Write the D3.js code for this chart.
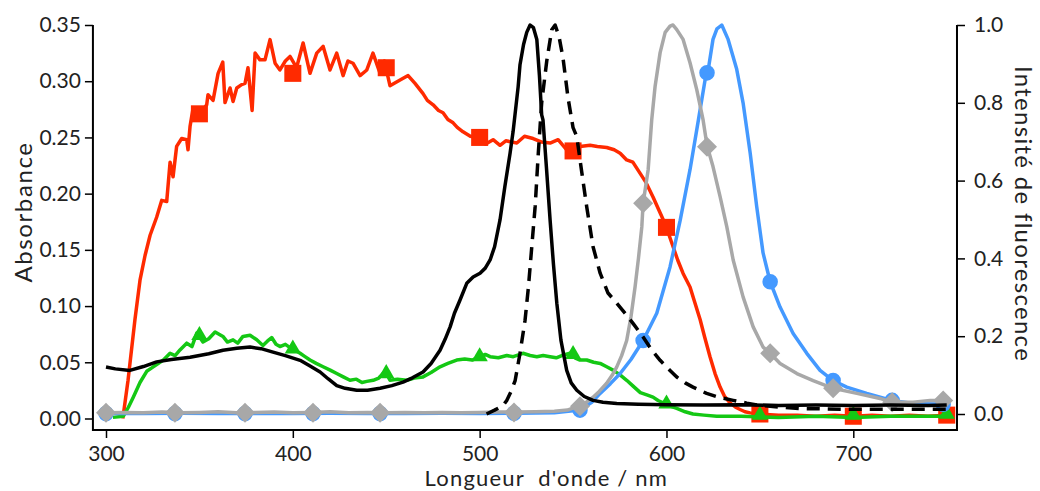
<!DOCTYPE html>
<html><head><meta charset="utf-8">
<script src="https://cdn.jsdelivr.net/npm/d3@7"></script>
<style>
html,body{margin:0;padding:0;background:#fff;}
svg{display:block;font-family:Lato,"Open Sans",sans-serif;}
</style></head>
<body>
<svg id="c" width="1040" height="491"></svg>
<script>
// ---------- DATA ----------
const xTicks = [300, 400, 500, 600, 700];
const leftTicks = [0, 0.05, 0.10, 0.15, 0.20, 0.25, 0.30, 0.35];
const rightTicks = [0, 0.2, 0.4, 0.6, 0.8, 1.0];
const xLabel = "Longueur\u00a0\u00a0d'onde / nm";
const leftLabel = "Absorbance";
const rightLabel = "Intensité de fluorescence";

// absorbance (left axis) – red, squares
const redAbs = [[309,0.000],[311.8,0.034],[315.5,0.088],[318.2,0.123],[320.9,0.145],[323.6,0.163],[327.1,0.179],[329.8,0.194],[332.5,0.193],[334.3,0.228],[335.9,0.215],[337.8,0.242],[340.5,0.249],[343.2,0.248],[343.9,0.239],[345.0,0.260],[346.6,0.276],[350,0.270],[353.9,0.279],[354.6,0.288],[357.3,0.283],[360.0,0.307],[362.5,0.317],[363.7,0.281],[366.4,0.294],[368.0,0.282],[370.0,0.294],[372.6,0.297],[374.4,0.298],[376.0,0.312],[378.2,0.274],[379.8,0.325],[382.4,0.319],[385.1,0.319],[387.8,0.337],[390.5,0.316],[393.1,0.310],[396,0.318],[398.5,0.322],[402,0.312],[405.5,0.334],[409.2,0.307],[412.8,0.325],[416.2,0.331],[419.9,0.310],[423.5,0.325],[426.9,0.305],[429.5,0.318],[432.2,0.316],[436.0,0.305],[439.6,0.310],[442.9,0.325],[446.7,0.307],[449,0.318],[452.0,0.296],[457.4,0.301],[461.7,0.305],[465.4,0.298],[469.7,0.289],[472,0.283],[475.1,0.279],[478,0.274],[480.4,0.272],[483,0.266],[485.8,0.263],[488,0.259],[491.1,0.255],[495,0.251],[498.4,0.250],[500,0.248],[503,0.244],[507.2,0.248],[510.9,0.243],[514,0.247],[519.9,0.245],[524,0.251],[528.6,0.249],[533,0.246],[537.7,0.245],[542,0.248],[546.6,0.239],[550,0.240],[553.7,0.242],[559.1,0.243],[563,0.242],[568.0,0.241],[572,0.239],[575.2,0.236],[578.7,0.230],[582,0.228],[585.9,0.218],[589,0.210],[592.8,0.197],[595.5,0.187],[598.2,0.177],[601,0.165],[603.5,0.153],[606,0.141],[608.9,0.129],[612.6,0.117],[615,0.104],[618.0,0.088],[620.5,0.072],[623.3,0.055],[626,0.040],[628.7,0.028],[631,0.020],[634.0,0.014],[637,0.010],[639.4,0.008],[642,0.006],[644.8,0.005],[650,0.004],[660,0.003],[670,0.003],[680,0.002],[690,0.003],[700,0.002],[710,0.003],[720,0.002],[730,0.003],[740,0.002],[750,0.003]];
const redMarks = [[350,0.271],[400,0.307],[450,0.312],[500,0.250],[550,0.238],[600,0.170],[650,0.004],[700,0.002],[750,0.003]];

// absorbance (left axis) – green, triangles
const greenAbs = [[303.7,0.001],[309.3,0.002],[312,0.010],[314.6,0.019],[318.2,0.032],[321.8,0.042],[324.5,0.045],[327.1,0.048],[330.7,0.052],[334.3,0.058],[337,0.056],[339.6,0.061],[343.2,0.067],[346,0.064],[348.6,0.076],[351.9,0.068],[355,0.071],[358.4,0.077],[362.6,0.073],[365,0.068],[368.0,0.070],[370.5,0.067],[373.3,0.073],[377.1,0.074],[380.7,0.070],[384.0,0.065],[386.5,0.069],[388.7,0.072],[391,0.066],[393.1,0.064],[396,0.066],[398.5,0.063],[401,0.061],[403.9,0.058],[406.5,0.055],[409.2,0.052],[412.5,0.049],[416.2,0.046],[420,0.043],[423.5,0.040],[427,0.037],[430.6,0.034],[434,0.035],[437,0.032],[439.6,0.033],[443,0.034],[446,0.036],[449.4,0.042],[452.0,0.034],[456,0.035],[461.0,0.034],[465,0.036],[469.7,0.037],[474,0.041],[478.8,0.046],[483,0.049],[487.7,0.052],[492,0.053],[496,0.052],[500.2,0.055],[503,0.057],[505.6,0.055],[510,0.054],[514.5,0.056],[518,0.055],[523.2,0.058],[527,0.056],[530.6,0.055],[534,0.056],[537.7,0.055],[541,0.054],[544,0.056],[548.4,0.058],[551,0.054],[553.7,0.052],[557.3,0.052],[561,0.050],[564.5,0.049],[568,0.046],[571.4,0.043],[575,0.039],[578.7,0.034],[582,0.029],[586.0,0.023],[589.5,0.021],[592.8,0.019],[595.5,0.016],[598.2,0.014],[602,0.011],[605.5,0.009],[610,0.006],[614.2,0.004],[620,0.003],[626.9,0.002],[640,0.002],[660,0.001],[680,0.002],[700,0.001],[720,0.002],[750,0.002]];
const greenMarks = [[350,0.074],[400,0.062],[450,0.040],[500,0.055],[550,0.057],[600,0.013],[650,0.003],[700,0.003],[750,0.004]];

// normalised spectra (right axis) – black solid
const blackSolid = [[300,0.121],[305,0.116],[312.8,0.112],[320,0.122],[327.1,0.134],[335,0.140],[345.0,0.146],[355,0.155],[362.6,0.164],[370,0.169],[377.1,0.172],[383,0.168],[389.4,0.159],[396,0.150],[403.9,0.138],[409,0.124],[414.6,0.108],[419,0.090],[423.5,0.073],[428,0.066],[434.2,0.061],[440,0.061],[446.7,0.066],[453,0.073],[459.0,0.082],[464,0.093],[469.7,0.108],[474,0.130],[478.8,0.164],[481.5,0.192],[484.2,0.224],[486.5,0.259],[489.5,0.293],[493.1,0.336],[496.5,0.352],[500.2,0.362],[503,0.375],[505.6,0.396],[508,0.430],[510.9,0.499],[513.5,0.585],[516.3,0.671],[517.9,0.726],[520.6,0.841],[521.6,0.898],[523.5,0.950],[525.2,0.981],[527.0,1.000],[528.8,0.993],[530.6,0.963],[532,0.870],[533.2,0.769],[533.9,0.756],[535.8,0.630],[537.7,0.499],[539.5,0.385],[541.3,0.285],[543.5,0.190],[546.6,0.112],[549,0.080],[552.0,0.061],[556,0.045],[560.7,0.035],[566,0.030],[573.4,0.027],[585,0.025],[600,0.024],[620,0.023],[640,0.024],[660,0.022],[680,0.023],[700,0.022],[720,0.023],[740,0.022],[750,0.023]];

// black dashed
const blackDashed = [[503.7,0.000],[508,0.010],[512.6,0.022],[514.5,0.035],[517,0.060],[519.0,0.086],[521.6,0.156],[524.3,0.241],[526.1,0.326],[527.9,0.430],[529.7,0.533],[531.4,0.671],[533.2,0.800],[535.9,0.907],[538.6,0.988],[540.4,1.000],[542.5,0.970],[544.6,0.916],[547.3,0.813],[550.0,0.736],[552.0,0.713],[554.7,0.620],[557.3,0.533],[560.7,0.430],[564.5,0.362],[568.7,0.311],[573.4,0.285],[578,0.258],[582.1,0.233],[587.5,0.198],[592,0.165],[596.6,0.138],[601.9,0.112],[605.5,0.095],[610,0.080],[614.2,0.069],[621.5,0.053],[628,0.043],[635.7,0.035],[643,0.028],[650.1,0.022],[660,0.018],[671.5,0.014],[685,0.013],[698.3,0.012],[720,0.012],[750,0.012]];

// gray, diamonds
const grayFluo = [[300,0.003],[310,0.004],[320,0.003],[330,0.005],[340,0.003],[350,0.004],[360,0.006],[370,0.003],[380,0.004],[390,0.005],[400,0.003],[410,0.004],[420,0.006],[430,0.003],[440,0.004],[450,0.003],[460,0.004],[470,0.003],[480,0.004],[490,0.003],[500,0.004],[510,0.005],[520,0.005],[530,0.006],[540,0.007],[547,0.010],[553.7,0.022],[557,0.030],[560.7,0.043],[564,0.058],[568.0,0.079],[571,0.100],[573.4,0.121],[576,0.150],[578.7,0.189],[581,0.250],[583.2,0.327],[585,0.400],[586.8,0.481],[587.5,0.542],[590.2,0.628],[592.1,0.756],[593.9,0.842],[596.6,0.929],[599.3,0.981],[601.9,0.997],[603.5,1.000],[605.5,0.988],[608.9,0.963],[612.6,0.903],[616.2,0.834],[619.6,0.756],[621.7,0.690],[624.9,0.636],[628.7,0.559],[632.3,0.481],[635.7,0.396],[641.0,0.301],[646.4,0.224],[651.7,0.172],[655.5,0.156],[660.8,0.130],[669.8,0.104],[678.5,0.086],[689.2,0.066],[701.9,0.053],[714.3,0.040],[720.8,0.030],[732.0,0.030],[741.1,0.035],[748.1,0.035]];
const grayMarks = [[300,0.003],[336.9,0.003],[374.4,0.003],[410.8,0.003],[446.7,0.003],[518.4,0.004],[553.7,0.020],[587.5,0.542],[621.7,0.687],[655.5,0.156],[689.2,0.066],[720.8,0.030],[748.1,0.035]];

// blue, circles
const blueFluo = [[300,0.001],[320,0.001],[340,0.002],[360,0.001],[380,0.001],[400,0.001],[420,0.002],[440,0.001],[460,0.001],[480,0.002],[500,0.001],[520,0.002],[540,0.003],[553.7,0.010],[560,0.030],[564.5,0.053],[570,0.078],[575.2,0.104],[581,0.140],[587.5,0.189],[594.8,0.259],[601.9,0.378],[607.3,0.497],[612.6,0.628],[617.1,0.756],[620.7,0.860],[622.1,0.877],[624.9,0.963],[627,0.990],[629.6,1.000],[633.0,0.963],[637.6,0.886],[641.0,0.800],[644.8,0.671],[648.3,0.533],[651.7,0.414],[655.5,0.340],[660.8,0.275],[667.8,0.207],[675.1,0.156],[682.2,0.112],[689.2,0.086],[696.5,0.069],[707.2,0.053],[720.6,0.035],[732.0,0.027],[750,0.025]];
const blueMarks = [[300,0.001],[336.9,0.001],[374.4,0.001],[410.8,0.001],[446.7,0.001],[518.4,0.002],[553.7,0.010],[587.5,0.189],[621.7,0.877],[655.5,0.340],[689.2,0.086],[720.8,0.035],[748.1,0.025]];

// ---------- DRAWING ----------
const svg = d3.select("#c");
const x = d3.scaleLinear().domain([300, 700]).range([106, 853.3]);
const yL = d3.scaleLinear().domain([0, 0.35]).range([418.5, 25]);
const yR = d3.scaleLinear().domain([0, 1]).range([414, 25]);
const xMin = 293, xMax = 755.5;
const plotLeft = x(xMin), plotRight = x(xMax), plotBottom = 430, plotTop = yL(0.35);

const COL = {red:"#ff2a00", green:"#14c814", blue:"#4499ff", gray:"#a8a8a8", black:"#000"};

function drawLine(data, ys, color, dash){
  const line = d3.line().x(d=>x(d[0])).y(d=>ys(d[1]));
  svg.append("path").datum(data)
    .attr("d", line).attr("fill","none").attr("stroke",color)
    .attr("stroke-width",3.5).attr("stroke-linejoin","round")
    .attr("stroke-dasharray", dash || null);
}
function drawMarks(data, ys, color, type, size){
  svg.append("g").selectAll("path").data(data).join("path")
    .attr("transform", d=>`translate(${x(d[0])},${ys(d[1])})`)
    .attr("d", d3.symbol().type(type).size(size))
    .attr("fill", color);
}
const diamond = {draw(ctx, size){ const r = Math.sqrt(size/2); ctx.moveTo(0,-r); ctx.lineTo(r,0); ctx.lineTo(0,r); ctx.lineTo(-r,0); ctx.closePath(); }};

drawLine(redAbs, yL, COL.red);
drawMarks(redMarks, yL, COL.red, d3.symbolSquare, 290);
drawLine(greenAbs, yL, COL.green);
drawMarks(greenMarks, yL, COL.green, d3.symbolTriangle, 115);
drawLine(blueFluo, yR, COL.blue);
drawMarks(blueMarks, yR, COL.blue, d3.symbolCircle, 190);
drawLine(grayFluo, yR, COL.gray);
drawMarks(grayMarks, yR, COL.gray, diamond, 200);
drawLine(blackSolid, yR, COL.black);
drawLine(blackDashed, yR, COL.black, "13,8");

// axes
const axStyle = g => { g.select(".domain").remove(); g.selectAll("line").attr("stroke","#000").attr("stroke-width",1.5);
  g.selectAll("text").attr("fill","#222").style("font-size","21px").style("font-family","Lato"); };

svg.append("g").attr("transform",`translate(${plotLeft},0)`)
  .call(d3.axisLeft(yL).tickValues(leftTicks).tickSize(8).tickPadding(4).tickFormat(d3.format(".2f"))).call(axStyle);
svg.append("g").attr("transform",`translate(${plotRight},0)`)
  .call(d3.axisRight(yR).tickValues(rightTicks).tickSize(8).tickPadding(9).tickFormat(d3.format(".1f"))).call(axStyle);
svg.append("g").attr("transform",`translate(0,${plotBottom})`)
  .call(d3.axisBottom(x).tickValues(xTicks).tickSize(8).tickPadding(8).tickFormat(d3.format("d"))).call(axStyle);

// frame lines (left, right, bottom)
svg.append("path").attr("d",`M${plotLeft},${plotTop}V${plotBottom}H${plotRight}V${yR(1)}`)
  .attr("fill","none").attr("stroke","#000").attr("stroke-width",2);

// titles
svg.append("text").attr("x",(x(300)+x(750))/2+20).attr("y",486).attr("text-anchor","middle")
  .style("font-size","22px").style("letter-spacing","1.2px").attr("fill","#222").text(xLabel);
svg.append("text").attr("transform",`translate(32,212) rotate(-90)`).attr("text-anchor","middle")
  .style("font-size","24px").style("letter-spacing","1.6px").attr("fill","#222").text(leftLabel);
svg.append("text").attr("transform",`translate(1015,214) rotate(90)`).attr("text-anchor","middle")
  .style("font-size","24px").style("letter-spacing","1.3px").attr("fill","#222").text(rightLabel);
</script>
</body></html>
